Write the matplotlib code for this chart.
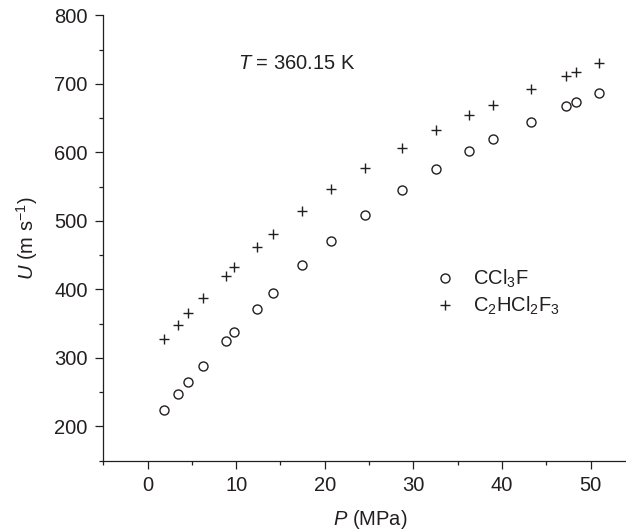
import numpy as np
import matplotlib.pyplot as plt
from matplotlib.ticker import MultipleLocator

plt.rcParams['font.family'] = ['Liberation Sans', 'DejaVu Sans']
plt.rcParams['mathtext.fontset'] = 'custom'
plt.rcParams['mathtext.rm'] = 'Liberation Sans'
plt.rcParams['mathtext.it'] = 'Liberation Sans:italic'

# --- Data (P in MPa, U in m/s) ---
P = [1.8, 3.4, 4.6, 6.2, 8.8, 9.8, 12.4, 14.1, 17.4, 20.7,
     24.5, 28.7, 32.5, 36.3, 39.0, 43.3, 47.2, 48.3, 50.9]
U_ccl3f = [224, 247, 265, 288, 325, 338, 372, 395, 435, 470,
           508, 545, 575, 602, 619, 645, 667, 673, 687]
U_c2hcl2f3 = [327, 348, 365, 387, 419, 432, 462, 481, 515, 546,
              577, 607, 632, 655, 669, 692, 712, 717, 730]

ink = '#231f20'
fs = 14.5

fig = plt.figure(figsize=(6.26, 5.30), dpi=100)
ax = fig.add_axes([0.165, 0.131, 0.835, 0.840])

ax.plot(P, U_ccl3f, 'o', ms=6.5, mfc='none', mec=ink, mew=1.0,
        label=r'CCl$_3$F')
ax.plot(P, U_c2hcl2f3, '+', ms=7, color=ink, mew=1.0,
        label=r'C$_2$HCl$_2$F$_3$')

ax.set_xlim(-5, 54)
ax.set_ylim(150, 800)
ax.xaxis.set_major_locator(MultipleLocator(10))
ax.xaxis.set_minor_locator(MultipleLocator(5))
ax.yaxis.set_major_locator(MultipleLocator(100))
ax.yaxis.set_minor_locator(MultipleLocator(50))
ax.set_yticks([200, 300, 400, 500, 600, 700, 800])

for s in ['top', 'right']:
    ax.spines[s].set_visible(False)
for s in ['left', 'bottom']:
    ax.spines[s].set_linewidth(0.9)
    ax.spines[s].set_color(ink)

ax.tick_params(which='major', length=5.8, width=0.9, color=ink,
               labelsize=fs, labelcolor=ink)
ax.tick_params(axis='x', which='major', pad=5.5)
ax.tick_params(axis='y', which='major', pad=5.5)
ax.tick_params(which='minor', length=2.9, width=0.9, color=ink)

ax.set_xlabel(r'$P$ (MPa)', fontsize=fs, color=ink)
ax.set_ylabel(r'$U$ (m s$^{-1}$)', fontsize=fs, color=ink)
ax.xaxis.set_label_coords(0.510, -0.107)
ax.yaxis.set_label_coords(-0.121, 0.5)

ax.text(0.258, 0.893, r'$T$ = 360.15 K', transform=ax.transAxes,
        fontsize=fs, color=ink, va='center')

ax.legend(loc='upper left', bbox_to_anchor=(0.6, 0.474), frameon=False,
          fontsize=fs, handlelength=1.0, handletextpad=0.9,
          labelspacing=0.25, labelcolor=ink)

fig.savefig('out.png', dpi=100)
